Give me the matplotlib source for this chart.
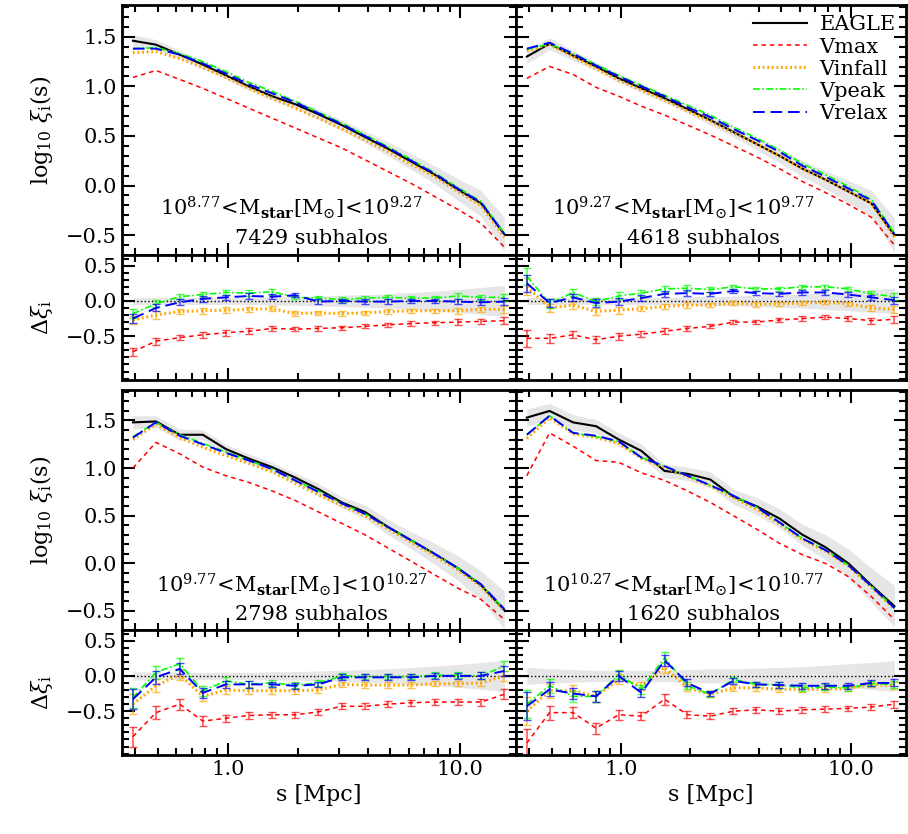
import numpy as np
import matplotlib
matplotlib.use("Agg")
import matplotlib.pyplot as plt
from matplotlib.ticker import FixedLocator, LogLocator, NullFormatter, MultipleLocator

plt.rcParams['font.family'] = ['DejaVu Serif']
plt.rcParams['mathtext.fontset'] = 'dejavuserif'

s = [0.39, 0.49, 0.62, 0.78, 0.98, 1.23, 1.55, 1.95, 2.45, 3.09, 3.89, 4.90, 6.17, 7.76, 9.77, 12.3, 15.5]

titles = [(8.77, 9.27, 7429), (9.27, 9.77, 4618), (9.77, 10.27, 2798), (10.27, 10.77, 1620)]

eagle = [
    [1.46, 1.42, 1.32, 1.22, 1.11, 1.00, 0.90, 0.82, 0.72, 0.61, 0.49, 0.37, 0.24, 0.11, -0.04, -0.18, -0.49],
    [1.30, 1.43, 1.31, 1.20, 1.08, 0.98, 0.88, 0.77, 0.66, 0.54, 0.42, 0.30, 0.17, 0.06, -0.06, -0.18, -0.50],
    [1.48, 1.49, 1.35, 1.35, 1.20, 1.10, 1.01, 0.90, 0.78, 0.64, 0.54, 0.38, 0.24, 0.10, -0.05, -0.23, -0.49],
    [1.53, 1.60, 1.48, 1.44, 1.30, 1.18, 0.97, 0.94, 0.88, 0.70, 0.60, 0.47, 0.30, 0.17, 0.00, -0.23, -0.45],
]
eagle_err = [
    [0.06, 0.05, 0.04, 0.04, 0.04, 0.04, 0.04, 0.04, 0.05, 0.05, 0.06, 0.07, 0.08, 0.09, 0.11, 0.13, 0.17],
    [0.07, 0.06, 0.05, 0.04, 0.04, 0.04, 0.04, 0.04, 0.05, 0.05, 0.06, 0.07, 0.08, 0.09, 0.11, 0.13, 0.17],
    [0.07, 0.06, 0.06, 0.05, 0.05, 0.05, 0.05, 0.05, 0.06, 0.06, 0.07, 0.08, 0.09, 0.11, 0.13, 0.15, 0.20],
    [0.09, 0.08, 0.08, 0.07, 0.07, 0.07, 0.07, 0.07, 0.08, 0.08, 0.09, 0.10, 0.11, 0.13, 0.15, 0.18, 0.22],
]
vrelax = [
    [1.38, 1.38, 1.32, 1.23, 1.13, 1.02, 0.93, 0.84, 0.73, 0.62, 0.50, 0.38, 0.25, 0.12, -0.03, -0.17, -0.49],
    [1.38, 1.44, 1.33, 1.21, 1.10, 1.00, 0.90, 0.79, 0.69, 0.57, 0.46, 0.34, 0.20, 0.09, -0.03, -0.15, -0.49],
    [1.32, 1.48, 1.34, 1.25, 1.16, 1.08, 0.99, 0.87, 0.75, 0.63, 0.52, 0.38, 0.24, 0.10, -0.05, -0.22, -0.48],
    [1.35, 1.55, 1.37, 1.34, 1.28, 1.11, 1.02, 0.92, 0.82, 0.71, 0.59, 0.43, 0.26, 0.14, -0.02, -0.24, -0.47],
]
vpeak = [
    [1.38, 1.39, 1.33, 1.25, 1.15, 1.04, 0.95, 0.85, 0.74, 0.63, 0.51, 0.39, 0.26, 0.13, -0.02, -0.16, -0.48],
    [1.37, 1.43, 1.33, 1.22, 1.11, 1.01, 0.91, 0.81, 0.71, 0.59, 0.48, 0.36, 0.22, 0.11, -0.01, -0.14, -0.48],
    [1.33, 1.48, 1.35, 1.26, 1.17, 1.08, 0.99, 0.87, 0.76, 0.63, 0.52, 0.38, 0.24, 0.10, -0.05, -0.22, -0.48],
    [1.35, 1.55, 1.37, 1.33, 1.28, 1.11, 1.02, 0.92, 0.82, 0.71, 0.59, 0.43, 0.26, 0.14, -0.02, -0.24, -0.47],
]
vinfall = [
    [1.34, 1.35, 1.28, 1.19, 1.09, 0.98, 0.88, 0.78, 0.68, 0.57, 0.46, 0.34, 0.21, 0.09, -0.06, -0.20, -0.52],
    [1.36, 1.42, 1.30, 1.18, 1.06, 0.96, 0.86, 0.75, 0.65, 0.53, 0.42, 0.30, 0.17, 0.06, -0.06, -0.18, -0.52],
    [1.30, 1.46, 1.32, 1.22, 1.13, 1.05, 0.96, 0.84, 0.72, 0.61, 0.50, 0.36, 0.22, 0.08, -0.07, -0.24, -0.50],
    [1.31, 1.53, 1.36, 1.32, 1.26, 1.10, 1.01, 0.91, 0.81, 0.69, 0.57, 0.41, 0.25, 0.13, -0.03, -0.25, -0.48],
]
vmax = [
    [1.09, 1.16, 1.07, 0.98, 0.88, 0.78, 0.68, 0.58, 0.48, 0.38, 0.26, 0.14, 0.02, -0.11, -0.24, -0.38, -0.62],
    [1.08, 1.20, 1.12, 0.99, 0.90, 0.80, 0.71, 0.61, 0.51, 0.40, 0.29, 0.17, 0.04, -0.07, -0.19, -0.32, -0.60],
    [1.00, 1.27, 1.15, 1.01, 0.92, 0.85, 0.76, 0.66, 0.54, 0.42, 0.30, 0.16, 0.02, -0.12, -0.26, -0.38, -0.59],
    [0.92, 1.37, 1.23, 1.08, 1.06, 0.95, 0.87, 0.76, 0.64, 0.50, 0.36, 0.21, 0.09, 0.00, -0.14, -0.35, -0.59],
]

d_vmax = [
    [-0.72, -0.57, -0.52, -0.48, -0.45, -0.43, -0.39, -0.40, -0.39, -0.38, -0.36, -0.34, -0.32, -0.31, -0.30, -0.29, -0.28],
    [-0.53, -0.53, -0.48, -0.55, -0.50, -0.47, -0.43, -0.39, -0.36, -0.30, -0.30, -0.27, -0.25, -0.23, -0.25, -0.28, -0.26],
    [-0.86, -0.52, -0.40, -0.64, -0.60, -0.56, -0.55, -0.55, -0.51, -0.43, -0.43, -0.40, -0.38, -0.37, -0.37, -0.37, -0.26],
    [-0.95, -0.52, -0.52, -0.74, -0.55, -0.57, -0.33, -0.55, -0.57, -0.50, -0.48, -0.50, -0.48, -0.47, -0.46, -0.44, -0.40],
]
d_vinfall = [
    [-0.27, -0.20, -0.15, -0.14, -0.13, -0.12, -0.11, -0.18, -0.17, -0.18, -0.17, -0.15, -0.14, -0.14, -0.14, -0.12, -0.12],
    [0.20, -0.10, -0.06, -0.15, -0.13, -0.11, -0.08, -0.06, -0.06, -0.03, -0.05, -0.04, -0.03, -0.02, -0.04, -0.10, -0.12],
    [-0.40, -0.14, 0.02, -0.29, -0.20, -0.21, -0.21, -0.21, -0.20, -0.12, -0.13, -0.13, -0.13, -0.11, -0.11, -0.10, 0.00],
    [-0.50, -0.21, -0.21, -0.29, -0.05, -0.14, 0.12, -0.17, -0.26, -0.17, -0.17, -0.19, -0.19, -0.19, -0.18, -0.12, -0.14],
]
d_vpeak = [
    [-0.18, -0.04, 0.06, 0.09, 0.12, 0.11, 0.13, 0.05, 0.04, 0.02, 0.04, 0.05, 0.04, 0.04, 0.07, 0.05, 0.05],
    [0.35, -0.04, 0.12, -0.01, 0.07, 0.11, 0.17, 0.18, 0.16, 0.20, 0.17, 0.17, 0.20, 0.20, 0.17, 0.10, 0.06],
    [-0.31, 0.05, 0.17, -0.21, -0.07, -0.12, -0.10, -0.13, -0.10, 0.00, -0.01, -0.01, -0.01, 0.01, 0.01, 0.00, 0.14],
    [-0.40, -0.14, -0.29, -0.29, 0.02, -0.19, 0.26, -0.14, -0.26, -0.05, -0.12, -0.13, -0.17, -0.16, -0.17, -0.11, -0.12],
]
d_vrelax = [
    [-0.25, -0.10, -0.02, 0.03, 0.05, 0.07, 0.06, 0.08, -0.01, 0.00, -0.01, -0.01, 0.00, 0.00, -0.01, -0.02, -0.01],
    [0.25, -0.03, 0.05, -0.03, -0.01, 0.04, 0.10, 0.11, 0.10, 0.14, 0.11, 0.10, 0.12, 0.12, 0.09, 0.05, 0.01],
    [-0.33, -0.02, 0.10, -0.24, -0.12, -0.12, -0.12, -0.14, -0.12, -0.02, -0.02, -0.02, -0.02, 0.00, 0.00, 0.00, 0.07],
    [-0.43, -0.19, -0.25, -0.29, 0.00, -0.24, 0.22, -0.10, -0.25, -0.07, -0.12, -0.13, -0.14, -0.14, -0.14, -0.10, -0.10],
]
d_err = [
    [0.06, 0.05, 0.04, 0.04, 0.04, 0.04, 0.04, 0.03, 0.03, 0.03, 0.03, 0.03, 0.03, 0.03, 0.04, 0.04, 0.05],
    [0.12, 0.06, 0.05, 0.05, 0.05, 0.04, 0.04, 0.04, 0.03, 0.03, 0.03, 0.03, 0.03, 0.03, 0.03, 0.04, 0.05],
    [0.14, 0.09, 0.08, 0.07, 0.05, 0.05, 0.04, 0.04, 0.04, 0.04, 0.04, 0.04, 0.04, 0.04, 0.04, 0.05, 0.07],
    [0.20, 0.10, 0.08, 0.08, 0.07, 0.06, 0.08, 0.05, 0.04, 0.04, 0.04, 0.04, 0.04, 0.04, 0.04, 0.04, 0.05],
]
d_band = [
    [0.05, 0.05, 0.05, 0.05, 0.05, 0.05, 0.06, 0.06, 0.07, 0.08, 0.09, 0.10, 0.12, 0.14, 0.16, 0.19, 0.22],
    [0.05, 0.05, 0.05, 0.05, 0.05, 0.05, 0.05, 0.06, 0.06, 0.07, 0.08, 0.09, 0.10, 0.12, 0.14, 0.16, 0.18],
    [0.06, 0.05, 0.05, 0.05, 0.05, 0.05, 0.06, 0.06, 0.07, 0.08, 0.09, 0.10, 0.12, 0.14, 0.16, 0.19, 0.22],
    [0.12, 0.10, 0.09, 0.08, 0.08, 0.08, 0.08, 0.09, 0.10, 0.10, 0.11, 0.12, 0.13, 0.15, 0.17, 0.19, 0.22],
]

W, H = 908, 834
fig = plt.figure(figsize=(W/100, H/100), dpi=100)
cols = [(122, 516), (516, 906)]
rows = [((5, 255), (255, 380)), ((390, 630), (630, 755))]

def mkax(x0, x1, y0, y1):
    return fig.add_axes([x0/W, 1 - y1/H, (x1-x0)/W, (y1-y0)/H])

styles = dict(
    vmax=dict(color='red', ls=(0, (3, 2.5)), lw=1.1),
    vinfall=dict(color='orange', ls=(0, (0.6, 0.9)), lw=2.2),
    vpeak=dict(color='lime', ls=(0, (4, 1.5, 1, 1.5)), lw=1.2),
    vrelax=dict(color='blue', ls=(0, (6, 3)), lw=1.4),
)

def style_ax(ax):
    ax.set_xscale('log')
    ax.set_xlim(0.35, 17.4)
    ax.tick_params(which='both', direction='in', top=True, right=True, labelsize=15, width=1.5)
    ax.tick_params(which='major', length=9)
    ax.tick_params(which='minor', length=5)
    ax.xaxis.set_major_locator(FixedLocator([1.0, 10.0]))
    ax.xaxis.set_minor_locator(LogLocator(subs=np.arange(2, 10)))
    ax.xaxis.set_minor_formatter(NullFormatter())
    for sp in ax.spines.values():
        sp.set_linewidth(2)

for i in range(4):
    r, c = divmod(i, 2)
    (x0, x1) = cols[c]
    (m0, m1), (q0, q1) = rows[r]
    ax = mkax(x0, x1, m0, m1)
    axr = mkax(x0, x1, q0, q1)
    style_ax(ax); style_ax(axr)
    e = np.array(eagle[i]); ee = np.array(eagle_err[i])
    ax.fill_between(s, e - ee, e + ee, color='#e6e6e6', lw=0)
    ax.plot(s, e, color='black', lw=1.5, label='EAGLE')
    ax.plot(s, vmax[i], label='Vmax', **styles['vmax'])
    ax.plot(s, vinfall[i], label='Vinfall', **styles['vinfall'])
    ax.plot(s, vpeak[i], label='Vpeak', **styles['vpeak'])
    ax.plot(s, vrelax[i], label='Vrelax', **styles['vrelax'])
    ax.set_ylim(-0.7, 1.82)
    ax.yaxis.set_major_locator(MultipleLocator(0.5))
    ax.yaxis.set_minor_locator(MultipleLocator(0.1))
    ax.set_xticklabels([])
    lo, hi, n = titles[i]
    ax.text(0.43, 0.19, r'$10^{%g}\!<\!{\rm M}_{\mathbf{star}}[{\rm M}_{\odot}]\!<\!10^{%g}$' % (lo, hi),
            transform=ax.transAxes, ha='center', va='center', fontsize=15)
    ax.text(0.48, 0.065, '%d subhalos' % n, transform=ax.transAxes, ha='center', va='center', fontsize=15)

    b = np.array(d_band[i])
    axr.fill_between(s, -b, b, color='#e6e6e6', lw=0)
    axr.axhline(0, color='black', ls=':', lw=1)
    err = d_err[i]
    for key, arr in [('vmax', d_vmax[i]), ('vinfall', d_vinfall[i]), ('vpeak', d_vpeak[i]), ('vrelax', d_vrelax[i])]:
        st = styles[key]
        axr.plot(s, arr, **st)
        axr.errorbar(s, arr, yerr=err, fmt='none', ecolor=st['color'], alpha=0.7, capsize=3, elinewidth=1.1)
    axr.set_ylim(-1.12, 0.65)
    axr.yaxis.set_major_locator(FixedLocator([-0.5, 0.0, 0.5]))
    axr.yaxis.set_minor_locator(MultipleLocator(0.1))
    if r == 0:
        axr.set_xticklabels([])
    else:
        axr.set_xticklabels(['1.0', '10.0'])
        axr.set_xlabel('s [Mpc]', fontsize=16)
    if c == 1:
        ax.set_yticklabels([]); axr.set_yticklabels([])
    else:
        ax.set_ylabel(r'log$_{10}$ $\xi_{\rm i}$(s)', fontsize=16)
        axr.set_ylabel(r'$\Delta\xi_{\rm i}$', fontsize=16)
        ax.yaxis.set_label_coords(-0.17, 0.5)
        axr.yaxis.set_label_coords(-0.17, 0.5)
    if i == 1:
        ax.legend(loc='upper right', frameon=False, fontsize=15, handlelength=2.6,
                  handletextpad=0.6, labelspacing=0.15, borderaxespad=0.1)

fig.savefig('out.png', dpi=100)
